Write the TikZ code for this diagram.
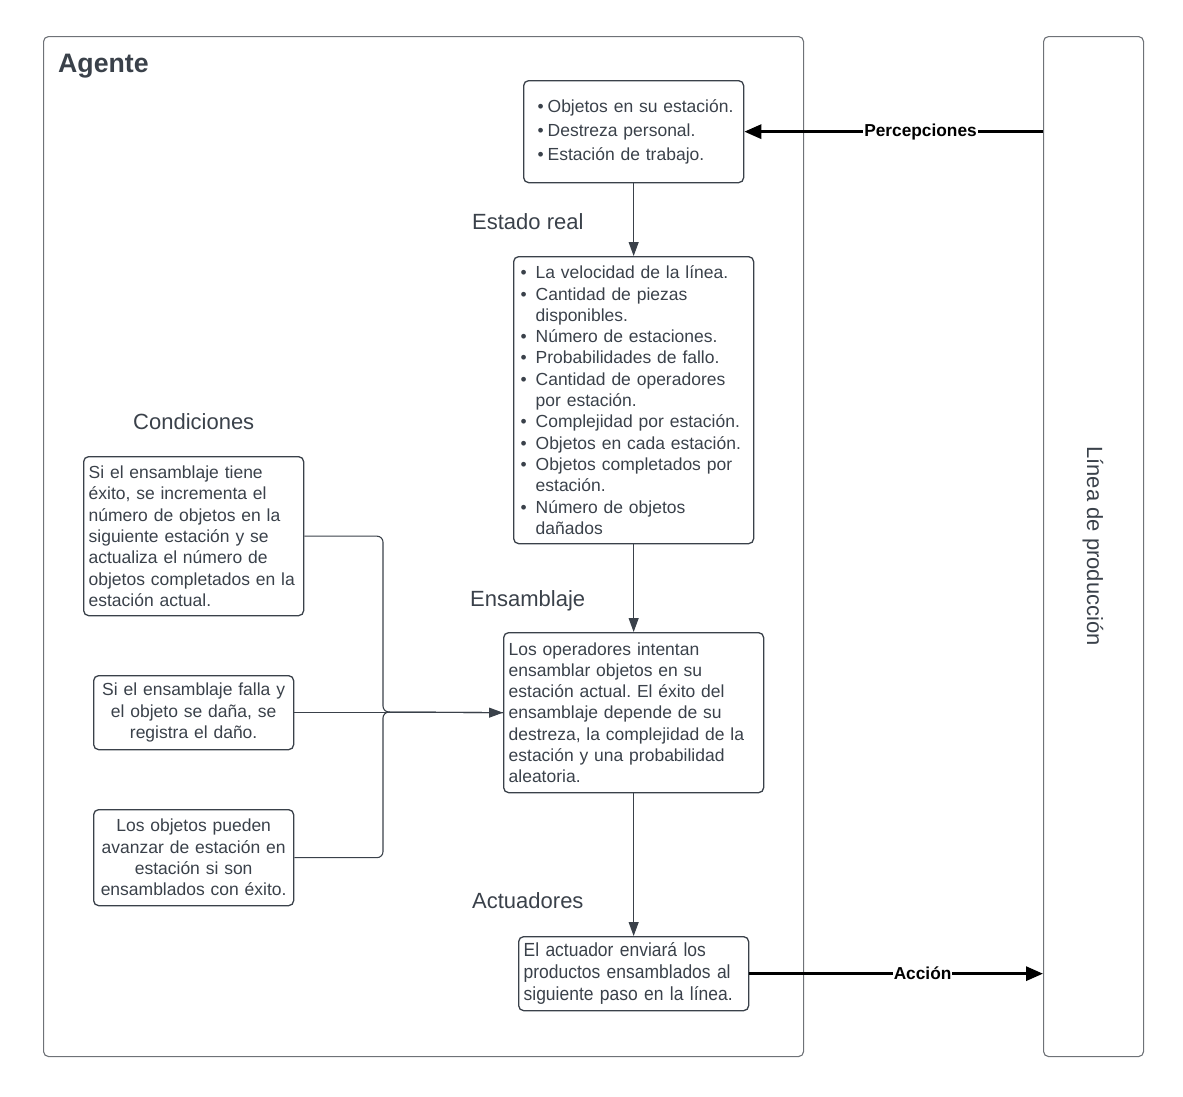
\documentclass[tikz,border=0pt]{standalone}
\usepackage{fontspec}
\setmainfont{Liberation Sans}
\newfontfamily\narrowfont[FakeStretch=0.92]{Liberation Sans}
\usetikzlibrary{arrows.meta,calc}
\definecolor{txt}{HTML}{3A414A}
\definecolor{edgec}{HTML}{3A414A}
\definecolor{framec}{HTML}{6E7277}
\frenchspacing
\newcommand\bul[1]{\mbox{\makebox[15pt][l]{\textbullet}#1}}
\newcommand\bulb[1]{\mbox{\hspace*{2pt}\makebox[10pt][l]{\textbullet}#1}}
\newcommand\cont[1]{\mbox{\hspace*{15pt}#1}}
\newcommand\ml[1]{\mbox{#1}}
\begin{document}
\begin{tikzpicture}[x=1pt,y=-1pt,
  framebox/.style={draw=framec, line width=1.1pt, rounded corners=5pt, anchor=north west, inner sep=0pt},
  box/.style={draw=edgec, line width=1.3pt, rounded corners=5pt, anchor=north west, inner ysep=0pt,
    text=txt, font=\fontsize{17.5}{21.3}\selectfont, align=left},
  head/.style={anchor=base west, inner sep=0pt, text=txt, font=\fontsize{22}{26}\selectfont},
  flow/.style={draw=edgec, line width=1.1pt, -{Triangle[length=14pt,width=10pt]}},
  joinline/.style={draw=edgec, line width=1.1pt, rounded corners=6pt},
  boldarrow/.style={draw=black, line width=3pt, -{Triangle[length=17pt,width=14pt]}},
  lbl/.style={fill=white, inner xsep=1pt, inner ysep=2pt, text=black, font=\bfseries\fontsize{17.3}{20}\selectfont}
]
\useasboundingbox (0,0) rectangle (1183,1096);

% outer frames
\node[framebox, minimum width=760, minimum height=1020] (agent) at (43,36) {};
\node[framebox, minimum width=100, minimum height=1020] (linea) at (1043,36) {};
\node[rotate=-90, inner sep=0pt, text=txt, font=\fontsize{22}{26}\selectfont] (lineatxt) at (1093,546) {Línea de producción};
\node[anchor=base west, inner sep=0pt, text=txt, font=\bfseries\fontsize{26.7}{30}\selectfont] (agtitle) at (58,72) {Agente};

% main boxes
\node[box, minimum width=220, minimum height=102, inner xsep=12pt, text width=196,
      font=\fontsize{17.5}{24}\selectfont] (b1) at (523,80)
  {\bulb{Objetos en su estación.}\\ \bulb{Destreza personal.}\\ \bulb{Estación de trabajo.}};

\node[box, minimum width=240, minimum height=287, inner xsep=7pt, text width=226] (b2) at (513,256)
  {\bul{La velocidad de la línea.}\\
   \bul{Cantidad de piezas}\\
   \cont{disponibles.}\\
   \bul{Número de estaciones.}\\
   \bul{Probabilidades de fallo.}\\
   \bul{Cantidad de operadores}\\
   \cont{por estación.}\\
   \bul{Complejidad por estación.}\\
   \bul{Objetos en cada estación.}\\
   \bul{Objetos completados por}\\
   \cont{estación.}\\
   \bul{Número de objetos}\\
   \cont{dañados}};

\node[box, minimum width=260, minimum height=160, inner xsep=5pt, text width=250] (b3) at (503,632)
  {\ml{Los operadores intentan}\\
   \ml{ensamblar objetos en su}\\
   \ml{estación actual. El éxito del}\\
   \ml{ensamblaje depende de su}\\
   \ml{destreza, la complejidad de la}\\
   \ml{estación y una probabilidad}\\
   \ml{aleatoria.}};

\node[box, minimum width=230, minimum height=74, inner xsep=5pt, text width=220,
      font=\narrowfont\fontsize{19}{22}\selectfont] (b4) at (518,936)
  {\ml{El actuador enviará los}\\
   \ml{productos ensamblados al}\\
   \ml{siguiente paso en la línea.}};

% condition boxes
\node[box, minimum width=220, minimum height=159, inner xsep=5pt, text width=210] (c1) at (83,456)
  {\ml{Si el ensamblaje tiene}\\
   \ml{éxito, se incrementa el}\\
   \ml{número de objetos en la}\\
   \ml{siguiente estación y se}\\
   \ml{actualiza el número de}\\
   \ml{objetos completados en la}\\
   \ml{estación actual.}};

\node[box, minimum width=200, minimum height=74, inner xsep=5pt, text width=190, align=center] (c2) at (93,675)
  {\ml{Si el ensamblaje falla y}\\
   \ml{el objeto se daña, se}\\
   \ml{registra el daño.}};

\node[box, minimum width=200, minimum height=96, inner xsep=5pt, text width=190, align=center] (c3) at (93,809)
  {\ml{Los objetos pueden}\\
   \ml{avanzar de estación en}\\
   \ml{estación si son}\\
   \ml{ensamblados con éxito.}};

% headings
\node[head] (hestado) at (472,229) {Estado real};
\node[head] (hens) at (470,606) {Ensamblaje};
\node[head] (hact) at (472,908) {Actuadores};
\node[head] (hcond) at (133,429) {Condiciones};

% flow arrows
\draw[flow] (b1.south) -- (b2.north);
\draw[flow] (b2.south) -- (b3.north);
\draw[flow] (b3.south) -- (b4.north);

% conditions junction
\coordinate (j) at (383,712);
\draw[joinline] (c1.east) -| (j) -- (b3.west);
\draw[joinline] (c3.east) -| (j) -- (b3.west);
\draw[flow] (c2.east) -- (b3.west);

% perception and action
\draw[boldarrow] (linea.west |- b1.east) -- node[lbl, pos=0.41] (lperc) {Percepciones} (b1.east);
\draw[boldarrow] (b4.east) -- node[lbl, pos=0.59] (lacc) {Acción} (linea.west |- b4.east);
\end{tikzpicture}
\end{document}
